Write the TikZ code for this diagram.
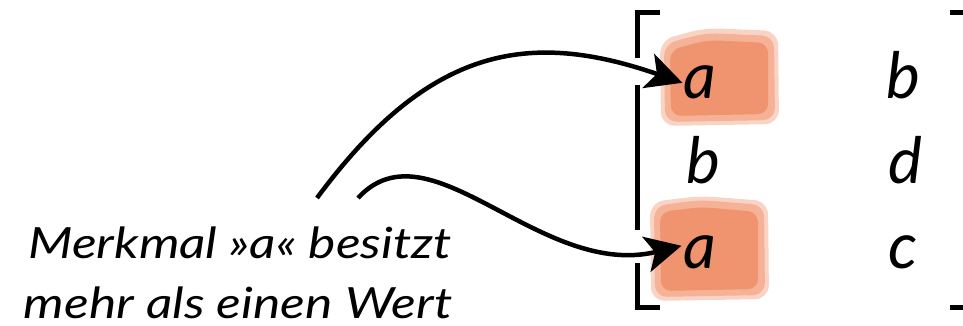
\documentclass[tikz,border=0pt]{standalone}
\usepackage{fontspec}
\setmainfont{Lato}
\usetikzlibrary{arrows.meta,calc}
\definecolor{blobA}{RGB}{249,212,196}
\definecolor{blobB}{RGB}{245,178,150}
\definecolor{blobC}{RGB}{240,148,112}
\begin{document}
\begin{tikzpicture}[x=1pt,y=-1pt,
  lbl/.style={font=\fontsize{43}{60}\selectfont\itshape, inner sep=0pt, anchor=base},
  ent/.style={font=\fontsize{64}{64}\selectfont\itshape, inner sep=0pt, anchor=base},
  brk/.style={line width=5pt},
  arr/.style={line width=4.5pt, -{Stealth[length=36pt,width=36pt,inset=9pt]}},
  blobout/.style={fill=blobA, rounded corners=14pt},
  blobmid/.style={fill=blobB, rounded corners=12pt},
  blobin/.style={fill=blobC, rounded corners=10pt},
]
\useasboundingbox (0,0) rectangle (963,326);
% highlight blobs (row 1)
\path[blobout] (660,40) -- (705,28) -- (778,31) -- (779,124) -- (661,126) -- cycle;
\path[blobmid] (664,44) -- (706,33) -- (774,36) -- (775,120) -- (665,122) -- cycle;
\path[blobin] (670,50) -- (708,40) -- (768,43) -- (768,114) -- (671,116) -- cycle;
% highlight blobs (row 3)
\path[blobout] (650,202) -- (700,196) -- (768,201) -- (769,299) -- (651,301) -- cycle;
\path[blobmid] (654,206) -- (700,200) -- (764,205) -- (765,295) -- (655,297) -- cycle;
\path[blobin] (660,212) -- (702,207) -- (758,212) -- (758,289) -- (661,291) -- cycle;
% matrix entries
\node[ent] (a1) at (700,99) {a};
\node[ent] (b1) at (903,99) {b};
\node[ent] (b2) at (703,183) {b};
\node[ent] (d2) at (905,183) {d};
\node[ent] (a3) at (700,268) {a};
\node[ent] (c3) at (903,268) {c};
% brackets
\draw[brk] (660,13) -- (637,13) -- (637,58);
\draw[brk] (637,85) -- (637,230);
\draw[brk] (637,263) -- (637,307) -- (660,307);
\draw[brk] (950,13) -- (963,13);
\draw[brk] (950,307) -- (963,307);
% label
\node[lbl] (l1) at (240,258) {\scalebox{1.2}[1]{Merkmal »a« besitzt}};
\node[lbl] (l2) at (238,318) {\scalebox{1.2}[1]{mehr als einen Wert}};
% arrows
\coordinate (s1) at (317,198);
\coordinate (s2) at (358,198);
\draw[arr] (s1) .. controls (430,45) and (530,30) .. ($(a1.west)+(-1,0)$);
\draw[arr] (s2) .. controls (430,120) and (540,280) .. ($(a3.west)+(-2,-6)$);
\end{tikzpicture}
\end{document}
